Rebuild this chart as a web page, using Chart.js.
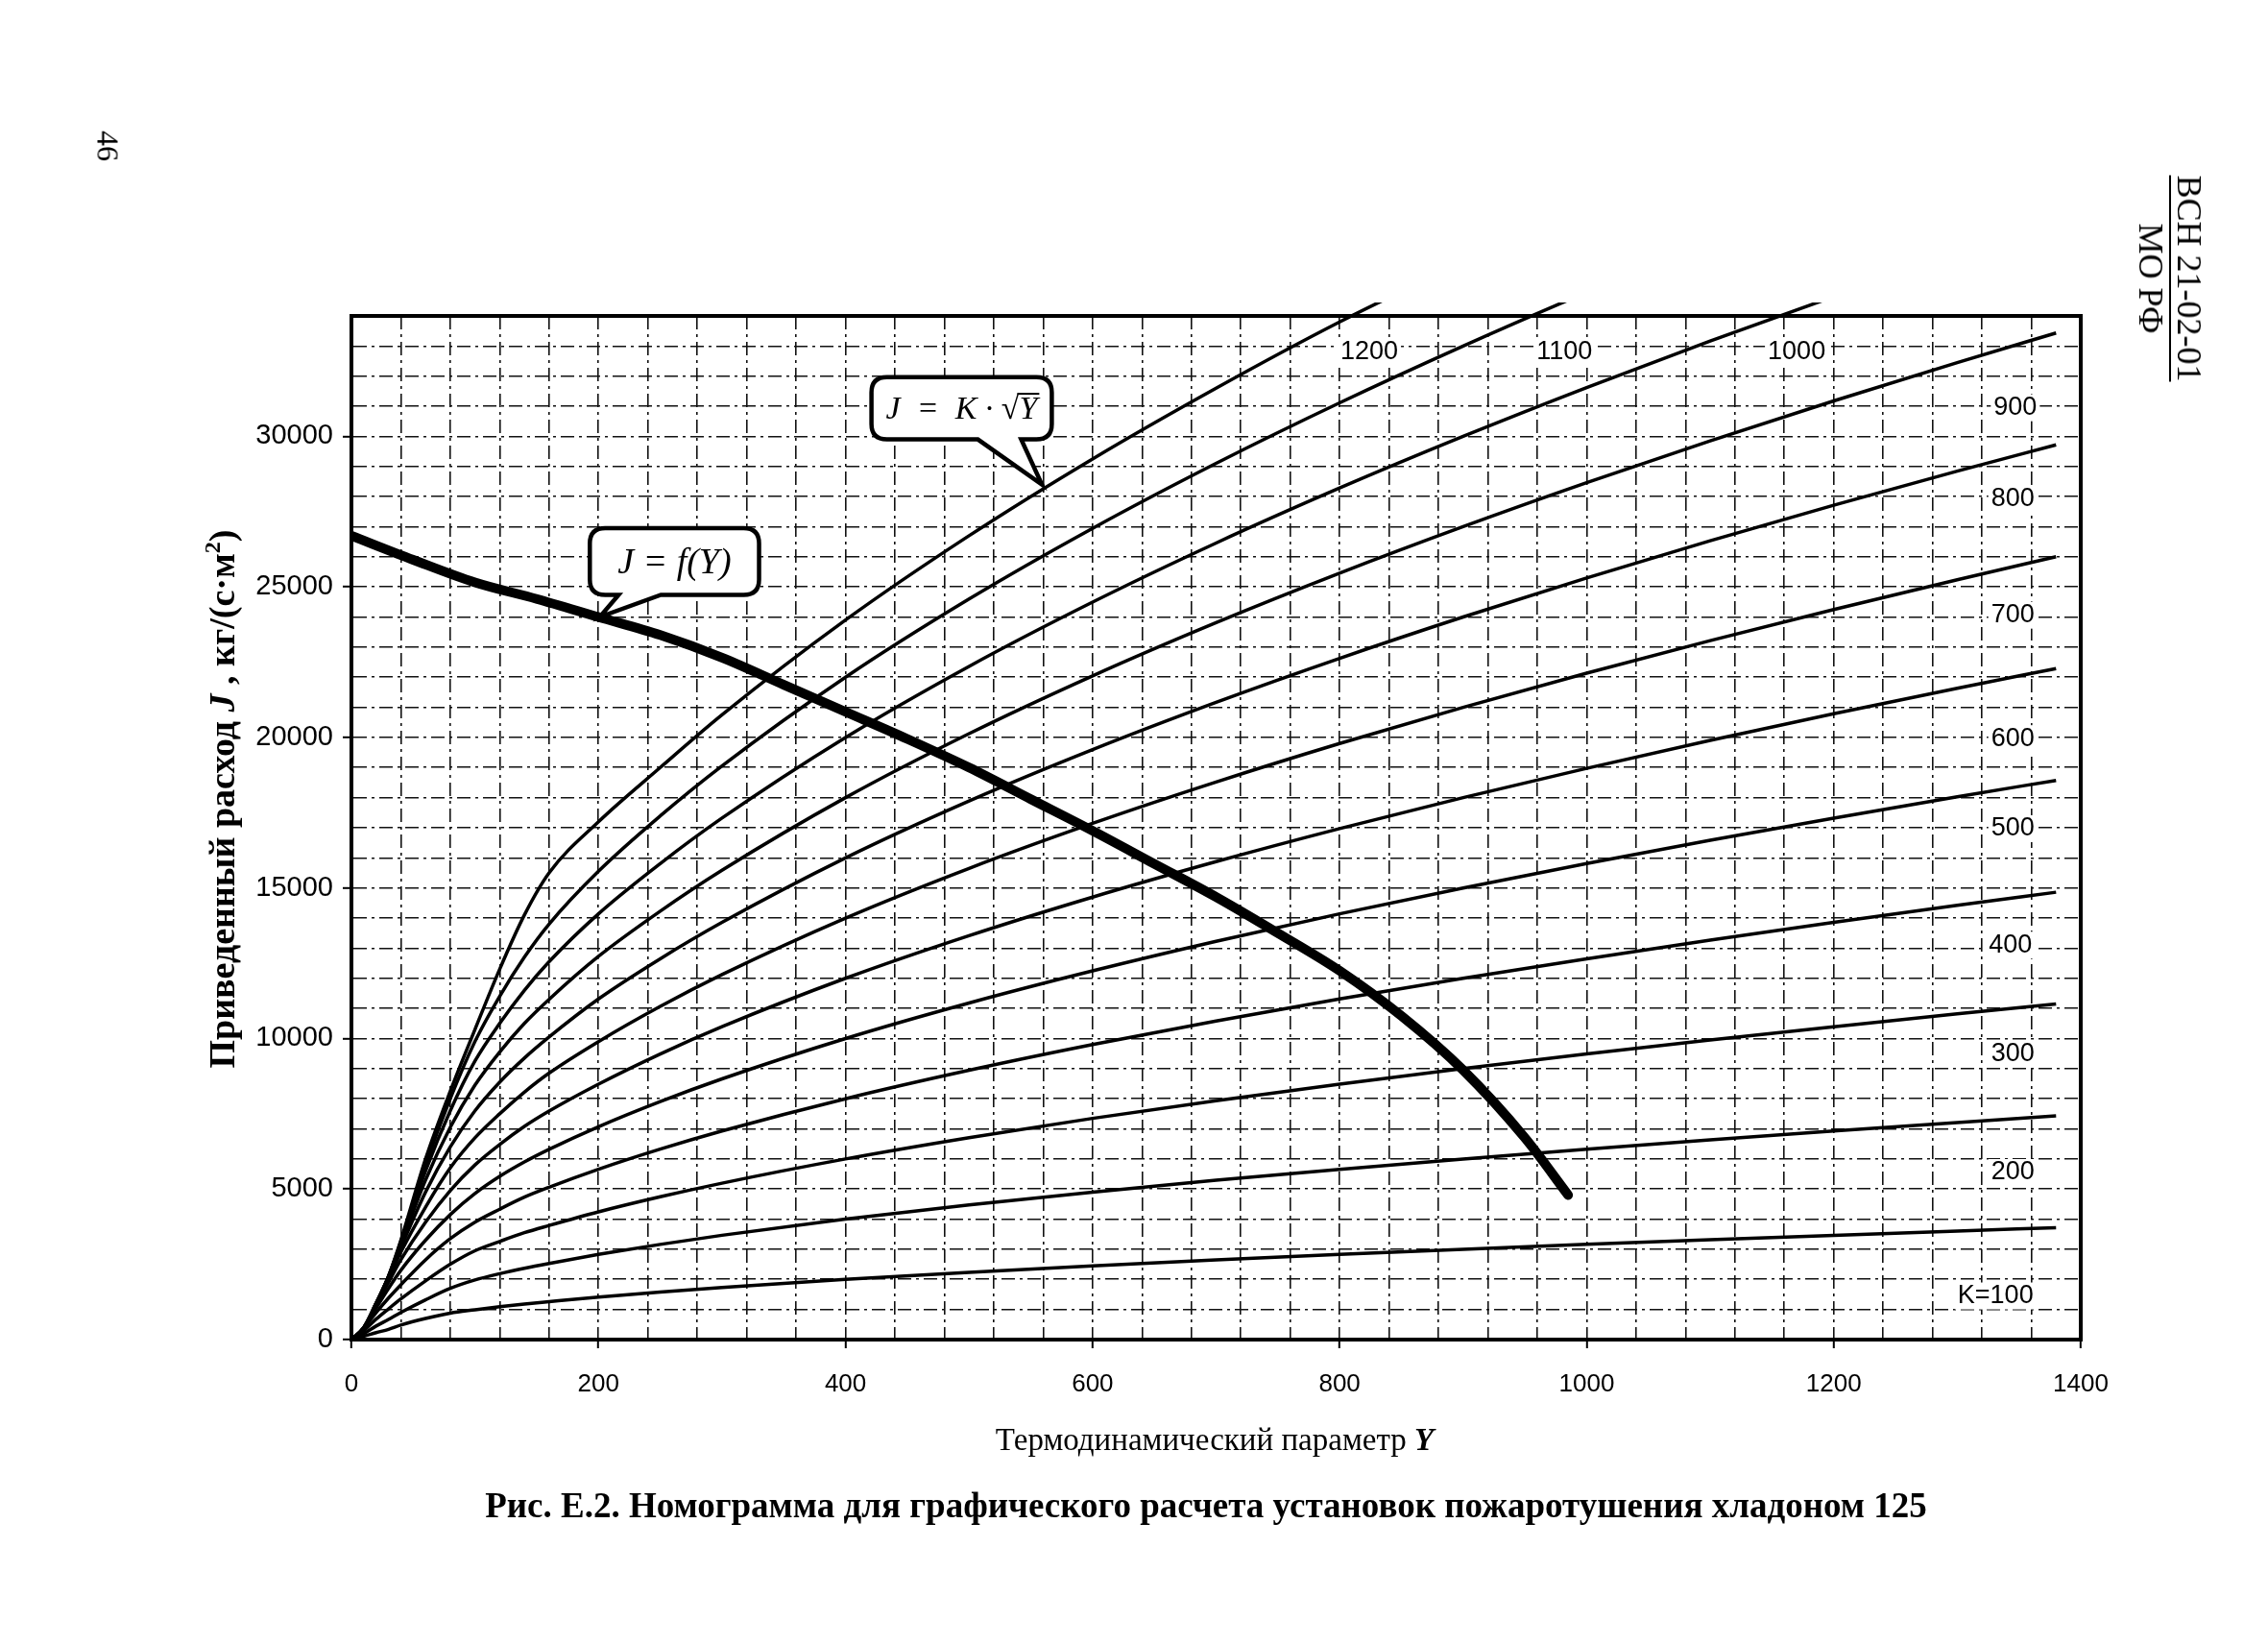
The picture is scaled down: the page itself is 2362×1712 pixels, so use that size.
<!DOCTYPE html>
<html>
<head>
<meta charset="utf-8">
<script src="https://cdn.jsdelivr.net/npm/chart.js@4.4.1/dist/chart.umd.min.js"></script>
<style>
  html, body { margin: 0; padding: 0; background: #fff; }
  #wrap { position: relative; width: 2362px; height: 1712px; overflow: hidden; background: #fff; }
  #nomo { position: absolute; left: 0; top: 0; }
  .page { position: absolute; font-family: "Liberation Serif", "DejaVu Serif", serif; color: #000; white-space: nowrap; }
  #pageNum { left: 112px; top: 152px; font-size: 32px; transform: translate(-50%, -50%) rotate(90deg); }
  #header { left: 2260px; top: 290px; font-size: 36px; line-height: 38px; text-align: center; transform: translate(-50%, -50%) rotate(90deg); }
  #header .u { border-bottom: 2px solid #000; }
  #caption { left: 1256px; top: 1567px; font-size: 37px; font-weight: bold; transform: translate(-50%, -50%); }
</style>
</head>
<body>
<div id="wrap">
  <canvas id="nomo" width="2362" height="1712"></canvas>
  <div class="page" id="pageNum">46</div>
  <div class="page" id="header"><div class="u">ВСН 21-02-01</div><div>МО РФ</div></div>
  <div class="page" id="caption">Рис. Е.2. Номограмма для графического расчета установок пожаротушения хладоном 125</div>
</div>
<script>
// Y values at which the K curves were read
const yParam = [0, 10, 20, 30, 40, 60, 80, 100, 120, 140, 160, 200, 250, 300, 400, 500, 600, 700, 800, 900, 1000, 1100, 1200, 1300, 1380];

const kValues = [100, 200, 300, 400, 500, 600, 700, 800, 900, 1000, 1100, 1200];

const jK100  = [0, 110, 230, 340, 480, 700, 880, 990, 1090, 1180, 1260, 1414, 1581, 1732, 2000, 2236, 2449, 2646, 2828, 3000, 3162, 3317, 3464, 3606, 3715];
const jK200  = [0, 200, 450, 670, 900, 1320, 1700, 1980, 2190, 2370, 2530, 2828, 3162, 3464, 4000, 4472, 4899, 5292, 5657, 6000, 6325, 6633, 6928, 7211, 7430];
const jK300  = [0, 300, 680, 1020, 1350, 1950, 2500, 2950, 3260, 3550, 3790, 4243, 4743, 5196, 6000, 6708, 7348, 7937, 8485, 9000, 9487, 9950, 10392, 10817, 11144];
const jK400  = [0, 380, 900, 1380, 1820, 2650, 3350, 3900, 4330, 4730, 5060, 5657, 6325, 6928, 8000, 8944, 9798, 10583, 11314, 12000, 12649, 13266, 13856, 14422, 14859];
const jK500  = [0, 400, 1050, 1700, 2300, 3300, 4150, 4850, 5420, 5900, 6320, 7071, 7906, 8660, 10000, 11180, 12247, 13229, 14142, 15000, 15811, 16583, 17321, 18028, 18574];
const jK600  = [0, 400, 1150, 1900, 2650, 3900, 4950, 5800, 6480, 7080, 7590, 8485, 9487, 10392, 12000, 13416, 14697, 15875, 16971, 18000, 18974, 19900, 20785, 21633, 22289];
const jK700  = [0, 400, 1200, 2000, 2900, 4400, 5700, 6700, 7500, 8220, 8850, 9899, 11068, 12124, 14000, 15652, 17146, 18520, 19799, 21000, 22136, 23216, 24249, 25239, 26004];
const jK800  = [0, 400, 1200, 2050, 3050, 4900, 6400, 7600, 8550, 9350, 10050, 11314, 12649, 13856, 16000, 17889, 19596, 21166, 22627, 24000, 25298, 26533, 27713, 28844, 29718];
const jK900  = [0, 400, 1200, 2080, 3150, 5300, 7050, 8450, 9550, 10500, 11300, 12728, 14230, 15588, 18000, 20125, 22045, 23812, 25456, 27000, 28460, 29850, 31177, 32450, 33433];
const jK1000 = [0, 380, 1200, 2100, 3200, 5600, 7600, 9250, 10500, 11600, 12550, 14142, 15811, 17321, 20000, 22361, 24495, 26458, 28284, 30000, 31623, 33166, 34641, 36056, null];
const jK1100 = [0, 360, 1200, 2100, 3250, 5800, 8000, 9900, 11400, 12700, 13800, 15556, 17393, 19053, 22000, 24597, 26944, 29103, 31113, 33000, 34785, 36483, null, null, null];
const jK1200 = [0, 350, 1200, 2100, 3300, 6000, 8250, 10300, 12300, 14100, 15500, 17200, 19000, 20750, 23900, 26700, 29250, 31600, 33800, 35800, null, null, null, null, null];

const kSeries = [jK100, jK200, jK300, jK400, jK500, jK600, jK700, jK800, jK900, jK1000, jK1100, jK1200];

// thick curve J = f(Y)
const fYParam = [0, 50, 100, 150, 200, 250, 300, 350, 400, 450, 500, 550, 600, 650, 700, 750, 800, 850, 900, 950, 985];
const fJ = [26700, 25900, 25150, 24600, 24000, 23400, 22650, 21750, 20850, 19950, 19000, 17950, 16900, 15800, 14700, 13500, 12250, 10750, 8950, 6700, 4800];

// curve labels: text and the (Y, J) spot where they sit
const kLabelText = ['K=100', '200', '300', '400', '500', '600', '700', '800', '900', '1000', '1100', '1200'];
const kLabelY = [1331, 1345, 1345, 1343, 1345, 1345, 1345, 1345, 1347, 1170, 982, 824];
const kLabelJ = [1450, 5550, 9500, 13100, 16970, 19960, 24060, 27920, 30950, 32790, 32790, 32790];

const xTickStep = 200, xGridStep = 40;
const yTickStep = 5000, yGridStep = 1000;

const sans = '"Liberation Sans", Arial, sans-serif';
const serif = '"Liberation Serif", "Times New Roman", serif';

const datasets = [{
  label: 'J = f(Y)',
  data: fYParam.map((y, i) => ({ x: y, y: fJ[i] })),
  borderColor: '#000',
  borderWidth: 10,
  pointRadius: 0,
  cubicInterpolationMode: 'monotone',
  borderCapStyle: 'round'
}];
kSeries.forEach((arr, k) => {
  datasets.push({
    label: 'K=' + kValues[k],
    data: yParam.map((y, i) => ({ x: y, y: arr[i] })).filter(p => p.y !== null),
    borderColor: '#000',
    borderWidth: 3.5,
    pointRadius: 0,
    cubicInterpolationMode: 'monotone',
    clip: { left: 0, top: 14, right: 0, bottom: 0 }
  });
});

function drawRich(ctx, parts, cx, cy, angle) {
  ctx.save();
  ctx.translate(cx, cy);
  ctx.rotate(angle);
  let total = 0;
  parts.forEach(p => { ctx.font = p.font; p.w = ctx.measureText(p.text).width; total += p.w; });
  let x = -total / 2;
  ctx.textBaseline = 'middle';
  ctx.textAlign = 'left';
  ctx.fillStyle = '#000';
  parts.forEach(p => { ctx.font = p.font; ctx.fillText(p.text, x, p.dy || 0); x += p.w; });
  ctx.restore();
}

// speech-bubble callouts, box corners and pointer tip in data units
const callouts = [
  { kind: 'sqrt', y0: 421, y1: 567, j0: 29900, j1: 31970, base0: 0.59, base1: 0.83, tipY: 559, tipJ: 28400 },
  { kind: 'f', y0: 193, y1: 330, j0: 24735, j1: 26953, base0: 0.17, base1: 0.42, tipY: 201, tipJ: 24000 }
];

const nomoPlugin = {
  id: 'nomo',
  afterDatasetsDraw(chart) {
    const { ctx, chartArea: a, scales: { x, y } } = chart;

    // frame
    ctx.save();
    ctx.strokeStyle = '#000';
    ctx.lineWidth = 4;
    ctx.strokeRect(a.left, a.top, a.right - a.left, a.bottom - a.top);
    ctx.restore();

    // K labels
    ctx.save();
    ctx.font = '27px ' + sans;
    ctx.textAlign = 'center';
    ctx.textBaseline = 'middle';
    kLabelText.forEach((t, i) => {
      const px = x.getPixelForValue(kLabelY[i]), py = y.getPixelForValue(kLabelJ[i]);
      const w = ctx.measureText(t).width;
      ctx.fillStyle = '#fff';
      ctx.fillRect(px - w / 2 - 3, py - 14, w + 6, 28);
      ctx.fillStyle = '#000';
      ctx.fillText(t, px, py);
    });
    ctx.restore();

    // callouts
    callouts.forEach(c => {
      const l = x.getPixelForValue(c.y0), r = x.getPixelForValue(c.y1);
      const t = y.getPixelForValue(c.j1), b = y.getPixelForValue(c.j0);
      const tx = x.getPixelForValue(c.tipY), ty = y.getPixelForValue(c.tipJ);
      const bx0 = l + (r - l) * c.base0, bx1 = l + (r - l) * c.base1;
      const rad = 16;
      ctx.save();
      ctx.beginPath();
      ctx.moveTo(l + rad, t);
      ctx.lineTo(r - rad, t);
      ctx.quadraticCurveTo(r, t, r, t + rad);
      ctx.lineTo(r, b - rad);
      ctx.quadraticCurveTo(r, b, r - rad, b);
      ctx.lineTo(bx1, b);
      ctx.lineTo(tx, ty);
      ctx.lineTo(bx0, b);
      ctx.lineTo(l + rad, b);
      ctx.quadraticCurveTo(l, b, l, b - rad);
      ctx.lineTo(l, t + rad);
      ctx.quadraticCurveTo(l, t, l + rad, t);
      ctx.closePath();
      ctx.fillStyle = '#fff';
      ctx.fill();
      ctx.lineWidth = 4.5;
      ctx.strokeStyle = '#000';
      ctx.stroke();

      ctx.fillStyle = '#000';
      ctx.textBaseline = 'middle';
      const cy = (t + b) / 2 + 2;
      const cx = (l + r) / 2;
      if (c.kind === 'sqrt') {
        const a1 = 'J  =  K · ', root = '√', yy = 'Y';
        ctx.font = 'italic 34px ' + serif;
        const w1 = ctx.measureText(a1).width;
        ctx.font = '34px ' + serif;
        const w2 = ctx.measureText(root).width;
        ctx.font = 'italic 34px ' + serif;
        const w3 = ctx.measureText(yy).width;
        const sx = cx - (w1 + w2 + w3) / 2;
        ctx.textAlign = 'left';
        ctx.fillText(a1, sx, cy);
        ctx.font = '34px ' + serif;
        ctx.fillText(root, sx + w1, cy);
        ctx.font = 'italic 34px ' + serif;
        ctx.fillText(yy, sx + w1 + w2, cy);
        ctx.lineWidth = 2;
        ctx.beginPath();
        ctx.moveTo(sx + w1 + w2 - 2, cy - 17);
        ctx.lineTo(sx + w1 + w2 + w3 + 2, cy - 17);
        ctx.stroke();
      } else {
        ctx.font = 'italic 38px ' + serif;
        ctx.textAlign = 'center';
        ctx.fillText('J = f(Y)', cx, cy);
      }
      ctx.restore();
    });

    // axis titles
    drawRich(ctx, [
      { text: 'Приведенный расход ', font: 'bold 38px ' + serif },
      { text: 'J', font: 'bold italic 38px ' + serif },
      { text: ' , кг/(с·м', font: 'bold 38px ' + serif },
      { text: '2', font: 'bold 24px ' + serif, dy: -11 },
      { text: ')', font: 'bold 38px ' + serif }
    ], 234, 832, -Math.PI / 2);
    drawRich(ctx, [
      { text: 'Термодинамический параметр ', font: '33px ' + serif },
      { text: 'Y', font: 'bold italic 33px ' + serif }
    ], 1265, 1501, 0);
  }
};

new Chart(document.getElementById('nomo').getContext('2d'), {
  type: 'line',
  data: { datasets: datasets },
  options: {
    responsive: false,
    devicePixelRatio: 1,
    animation: false,
    events: [],
    layout: { padding: { left: 246, right: 195, top: 329, bottom: 237 } },
    plugins: { legend: { display: false }, tooltip: { enabled: false } },
    scales: {
      x: {
        type: 'linear',
        min: 0,
        max: 1400,
        afterFit: s => { s.height = 80; },
        ticks: {
          stepSize: xGridStep,
          autoSkip: false,
          maxRotation: 0,
          padding: 22,
          color: '#000',
          font: { family: sans, size: 26 },
          callback: v => (v % xTickStep === 0 ? String(v) : '')
        },
        grid: {
          color: '#111',
          lineWidth: 1.6,
          tickLength: 9,
          tickColor: c => (c.tick && c.tick.value % xTickStep === 0 ? '#000' : 'rgba(0,0,0,0)'),
          tickWidth: 2
        },
        border: { color: '#000', width: 4, dash: [14, 5, 3, 5] }
      },
      y: {
        type: 'linear',
        min: 0,
        max: 34000,
        afterFit: s => { s.width = 120; },
        ticks: {
          stepSize: yGridStep,
          autoSkip: false,
          padding: 10,
          color: '#000',
          font: { family: sans, size: 29 },
          callback: v => (v % yTickStep === 0 ? String(v) : '')
        },
        grid: {
          color: '#111',
          lineWidth: 1.6,
          tickLength: 9,
          tickColor: c => (c.tick && c.tick.value % yTickStep === 0 ? '#000' : 'rgba(0,0,0,0)'),
          tickWidth: 2
        },
        border: { color: '#000', width: 4, dash: [14, 5, 3, 5] }
      }
    }
  },
  plugins: [nomoPlugin]
});
</script>
</body>
</html>
